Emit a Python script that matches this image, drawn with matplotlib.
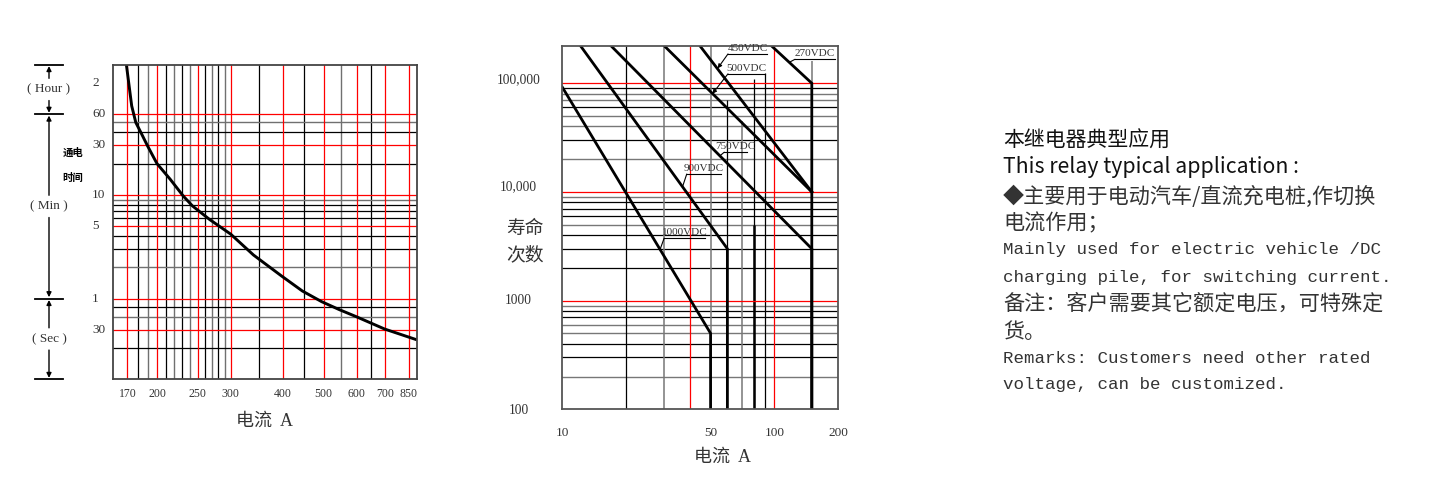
import matplotlib
matplotlib.use("Agg")
import numpy as np
import matplotlib.pyplot as plt
import matplotlib.transforms as mtransforms
from matplotlib.ticker import NullLocator

plt.rcParams['font.family'] = ['Liberation Serif', 'Noto Sans CJK SC']

# ---------------- left chart: energizing time vs current ----------------
cur_a = [169, 174, 178, 183, 190, 200, 215, 231, 243, 267, 300, 340, 397, 445, 495, 545, 600, 700, 836]
time_s = [10800, 4330, 2990, 2400, 1770, 1200, 850, 586, 470, 348, 251, 158, 99, 71, 56, 47, 40, 30.5, 24]
left_xticks = [170, 200, 250, 300, 400, 500, 600, 700, 800]
left_xlabels = ['170', '200', '250', '300', '400', '500', '600', '700', '850']
left_vblack = [180, 210, 230, 260, 280, 350, 450, 650]
left_vgray = [190, 220, 240, 270, 290, 550]
left_yticks = [7200, 3600, 1800, 600, 300, 60, 30]
left_ylabels = ['2', '60', '30', '10', '5', '1', '30']
left_hblack = [2400, 1200, 480, 420, 360, 240, 180, 50, 20]
left_hgray = [3000, 540, 120, 40]
unit_bounds = [10800, 3600, 60, 10]
unit_names = ['( Hour )', '( Min )', '( Sec )']

# ---------------- middle chart: electrical life vs current ----------------
life_xticks = [10, 50, 100, 200]
life_yticks = [100, 1000, 10000, 100000]
life_ylabels = ['100', '1000', '10,000', '100,000']
volt_names = ['1000VDC', '900VDC', '750VDC', '500VDC', '450VDC', '270VDC']
volt_curr = [[10, 50, 50], [12.2, 60, 60], [17, 150, 150], [30.3, 150], [44.6, 150], [97, 150, 150]]
volt_life = [[92000, 500, 100], [220000, 3000, 100], [220000, 3000, 100],
             [220000, 10000], [220000, 10000], [220000, 100000, 100]]
mid_vlines = [20, 30, 40, 50, 60, 70, 80, 90, 100, 150]
mid_vtops = [220000, 220000, 220000, 220000, 70000, 45000, 110000, 125000, 220000, 160000]
mid_vcolors = ['black', '#777777', 'red', '#777777', 'black', '#777777', 'black', 'black', 'red', '#777777']
mid_hred = [1000, 10000, 100000]
mid_hblack = [300, 400, 700, 800, 2000, 3000, 4000, 6000, 7000, 8000, 30000, 60000, 90000]
mid_hgray = [200, 500, 600, 900, 5000, 9000, 20000, 40000, 50000, 70000, 80000]

# ---------------- right text ----------------
note_cn_title = '本继电器典型应用'
note_en_title = 'This relay typical application :'
note_cn_use = ['◆主要用于电动汽车/直流充电桩,作切换', '电流作用；']
note_en_use = ['Mainly used for electric vehicle /DC', 'charging pile, for switching current.']
note_cn_rem = ['备注：客户需要其它额定电压，可特殊定', '货。']
note_en_rem = ['Remarks: Customers need other rated', 'voltage, can be customized.']

W, H = 1453, 500
fig = plt.figure(figsize=(W / 100, H / 100), dpi=100)
txt_col = '#333333'

# ======== left chart ========
ax1 = fig.add_axes([113 / W, 1 - 379.3 / H, 304 / W, 314.6 / H])
ax1.set_xscale('log')
ax1.set_yscale('log')
ax1.set_xlim(157, 836)
ax1.set_ylim(10, 10800)
for v in left_vgray:
    ax1.axvline(v, color='#707070', lw=1.0)
for v in left_vblack:
    ax1.axvline(v, color='black', lw=0.9)
for v in left_hgray:
    ax1.axhline(v, color='#707070', lw=1.0)
for v in left_hblack:
    ax1.axhline(v, color='black', lw=0.9)
for v in left_xticks:
    ax1.axvline(v, color='red', lw=0.9)
for v in left_yticks[1:]:
    ax1.axhline(v, color='red', lw=0.9)
ax1.plot(cur_a, time_s, color='black', lw=2.1, solid_capstyle='butt')
for s in ax1.spines.values():
    s.set_color('#444444')
    s.set_linewidth(1.3)
ax1.set_xticks(left_xticks, left_xlabels)
ax1.xaxis.set_minor_locator(NullLocator())
ax1.set_yticks([])
ax1.yaxis.set_minor_locator(NullLocator())
ax1.tick_params(axis='x', length=0, pad=6, labelsize=8.5, labelcolor=txt_col)

blend1 = mtransforms.blended_transform_factory(ax1.transAxes, ax1.transData)
for v, s in zip(left_yticks, left_ylabels):
    ax1.text(-0.069, v, s, transform=blend1, ha='left', va='center', fontsize=9.5, color=txt_col)

# unit brackets with arrows
xa = (49 - 113) / 304
for b in unit_bounds:
    ax1.plot([(35 - 113) / 304, (63 - 113) / 304], [b, b], transform=blend1,
             clip_on=False, color='black', lw=1.3)
for i, name in enumerate(unit_names):
    hi, lo = unit_bounds[i], unit_bounds[i + 1]
    mid = np.sqrt(hi * lo)
    ax1.text(xa, mid, name, transform=blend1, ha='center', va='center', fontsize=9.5, color=txt_col)
    for end in (hi, lo):
        ax1.annotate('', xy=(xa, end), xycoords=blend1, xytext=(xa, mid), textcoords=blend1,
                     arrowprops=dict(arrowstyle='-|>', color='black', lw=1.0, shrinkA=8, shrinkB=1,
                                     mutation_scale=7))

fig.text(73 / W, 1 - 153 / H, '通电', fontsize=7.5, fontweight='bold', ha='center', va='center')
fig.text(73 / W, 1 - 177.7 / H, '时间', fontsize=7.5, fontweight='bold', ha='center', va='center')
fig.text(265 / W, 1 - 421.7 / H, '电流  A', fontsize=13, ha='center', va='center', color=txt_col)

# ======== middle chart ========
ax2 = fig.add_axes([562.3 / W, 1 - 409.3 / H, 276 / W, 363.3 / H])
ax2.set_xscale('log')
ax2.set_yscale('log')
ax2.set_xlim(10, 200)
ax2.set_ylim(100, 220000)
for v in mid_hgray:
    ax2.axhline(v, color='#777777', lw=1.0)
for v in mid_hblack:
    ax2.axhline(v, color='black', lw=0.9)
for v, top, c in zip(mid_vlines, mid_vtops, mid_vcolors):
    ax2.vlines(v, 100, top, color=c, lw=0.9 if c != '#777777' else 1.1)
ax2.vlines(80, 100, 5000, color='black', lw=1.8)
for v in mid_hred:
    ax2.axhline(v, color='red', lw=0.9)
for xs, ys in zip(volt_curr, volt_life):
    ax2.plot(xs, ys, color='black', lw=2.0, solid_joinstyle='miter')
for s in ax2.spines.values():
    s.set_color('#555555')
    s.set_linewidth(1.3)
ax2.set_xticks(life_xticks, [str(v) for v in life_xticks])
ax2.xaxis.set_minor_locator(NullLocator())
ax2.set_yticks([])
ax2.yaxis.set_minor_locator(NullLocator())
ax2.tick_params(axis='x', length=0, pad=13, labelsize=9.5, labelcolor=txt_col)

blend2 = mtransforms.blended_transform_factory(ax2.transAxes, ax2.transData)
for v, s, dy in zip(life_yticks, life_ylabels, [-1, 0, 4, 2.5]):
    ax2.annotate(s, xy=(-0.1587, v), xycoords=blend2, xytext=(0, dy), textcoords='offset points',
                 ha='center', va='center', fontsize=9.75, color=txt_col, annotation_clip=False)

# voltage labels: underline + leader to curve
label_spec = {
    '270VDC': ((125, 193), 166000, (117, 155000), False),
    '450VDC': ((60.4, 92.3), 186000, (54, 137000), True),
    '500VDC': ((60.4, 90.3), 122000, (51, 80000), True),
    '750VDC': ((58.0, 74.0), 23200, (55.2, 21400), False),
    '900VDC': ((38.6, 56.0), 14600, (36.9, 11200), False),
    '1000VDC': ((30.2, 47.1), 3750, (28.9, 2955), False),
}
for name in volt_names:
    (ux1, ux2), uy, tip, arrow = label_spec[name]
    ax2.plot([ux1, ux2], [uy, uy], color='black', lw=0.8)
    ax2.text(np.sqrt(ux1 * ux2), uy * 1.02, name, ha='center', va='bottom', fontsize=8, color=txt_col)
    ax2.annotate('', xy=tip, xytext=(ux1, uy),
                 arrowprops=dict(arrowstyle='-|>' if arrow else '-', color='black', lw=0.8,
                                 shrinkA=0, shrinkB=0, mutation_scale=6))

fig.text(525 / W, 1 - 229.5 / H, '寿命', fontsize=13.5, ha='center', va='center', color=txt_col)
fig.text(525 / W, 1 - 255.5 / H, '次数', fontsize=13.5, ha='center', va='center', color=txt_col)
xl = fig.text(723 / W, 1 - 457 / H, '电流  A', fontsize=13, ha='center', va='center', color=txt_col)
xl.set_clip_box(mtransforms.TransformedBbox(mtransforms.Bbox([[0, 37 / H], [1, 1]]), fig.transFigure))
xl.set_clip_on(True)

# ======== right notes ========
x0 = 1003 / W
fig.text(x0, 1 - 141 / H, note_cn_title, fontsize=15, family=['Noto Sans CJK SC'], va='center', color='#111111')
fig.text(x0, 1 - 167.3 / H, note_en_title, fontsize=15.3, family=['Noto Sans CJK SC'], va='center', color='#111111')
for s, y in zip(note_cn_use, [196.7, 223.3]):
    fig.text(x0, 1 - y / H, s, fontsize=15.2, family=['Noto Sans CJK SC'], va='center', color=txt_col)
for s, y in zip(note_en_use, [249.3, 277.3]):
    fig.text(x0, 1 - y / H, s, fontsize=12.6, family=['Liberation Mono'], va='center', color=txt_col)
for s, y in zip(note_cn_rem, [303.7, 331.7]):
    fig.text(x0, 1 - y / H, s, fontsize=15.2, family=['Noto Sans CJK SC'], va='center', color=txt_col)
for s, y in zip(note_en_rem, [358.3, 385]):
    fig.text(x0, 1 - y / H, s, fontsize=12.6, family=['Liberation Mono'], va='center', color=txt_col)

fig.savefig('out.png', dpi=100)
